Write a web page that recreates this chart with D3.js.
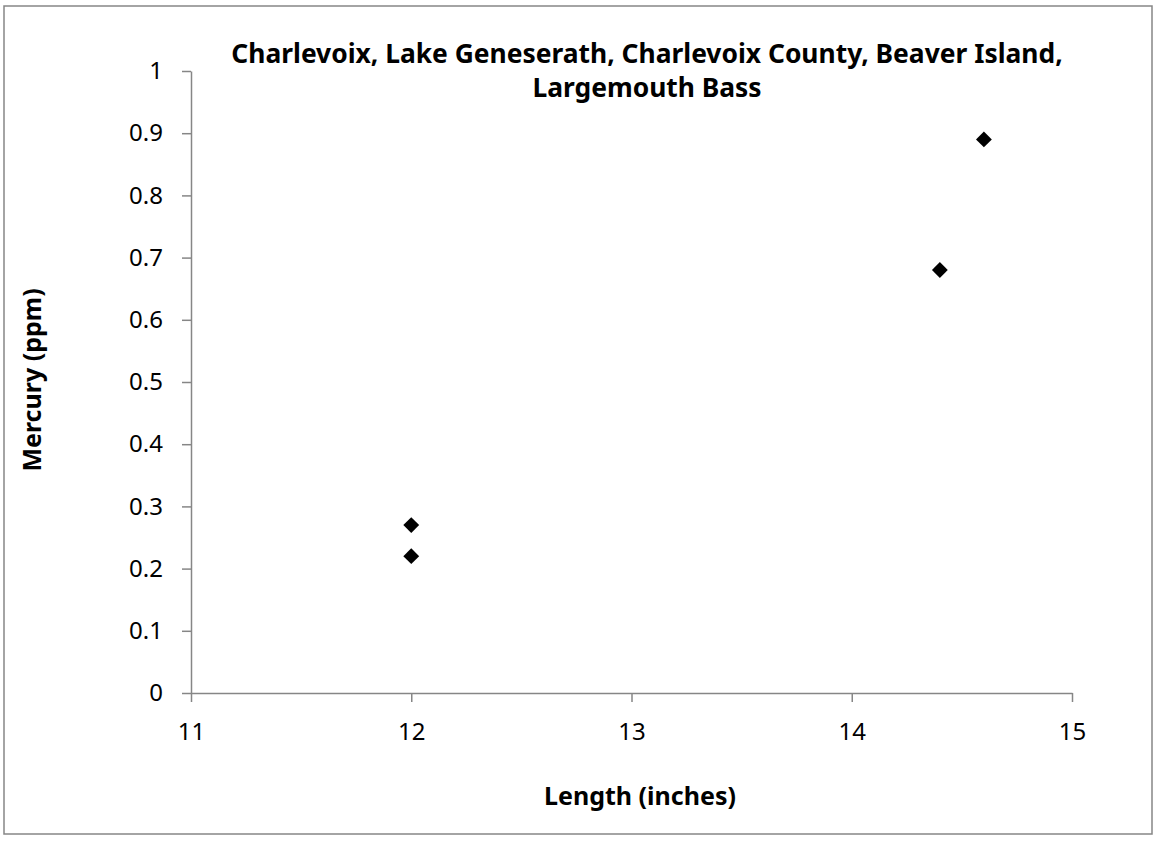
<!DOCTYPE html>
<html>
<head>
<meta charset="utf-8">
<script src="https://cdn.jsdelivr.net/npm/d3@7"></script>
<style>
  body { margin: 0; background: #fff; }
  svg { font-family: "Noto Sans", "Open Sans", sans-serif; }
</style>
</head>
<body>
<div id="chart"></div>
<script>
// Data
const lengths = [12, 12, 14.4, 14.6];
const mercury = [0.27, 0.22, 0.68, 0.89];
const xTicks = [11, 12, 13, 14, 15];
const yTicks = [0, 0.1, 0.2, 0.3, 0.4, 0.5, 0.6, 0.7, 0.8, 0.9, 1];
const titleLines = ["Charlevoix, Lake Geneserath, Charlevoix County, Beaver Island,", "Largemouth Bass"];

const W = 1156, H = 842;
const margin = {top: 71, right: 84, bottom: 149, left: 191},
      width = 1072 - margin.left,
      height = 693 - margin.top;

const svg = d3.select("#chart").append("svg")
    .attr("width", W)
    .attr("height", H);

// outer chart border
svg.append("rect")
    .attr("x", 4).attr("y", 6)
    .attr("width", 1148).attr("height", 828)
    .attr("fill", "none")
    .attr("stroke", "#868686")
    .attr("stroke-width", 1.5);

const g = svg.append("g")
    .attr("transform", `translate(${margin.left},${margin.top})`);

const x = d3.scaleLinear().domain([11, 15]).range([0, width]);
const y = d3.scaleLinear().domain([0, 1]).range([height, 0]);

// x axis
const xAxis = g.append("g")
    .attr("transform", `translate(0,${height})`)
    .call(d3.axisBottom(x).tickValues(xTicks).tickSize(9).tickPadding(21).tickSizeOuter(0).tickFormat(d3.format("d")));

// y axis
const yAxis = g.append("g")
    .call(d3.axisLeft(y).tickValues(yTicks).tickSize(9).tickPadding(19).tickSizeOuter(0).tickFormat(d => d === 0 || d === 1 ? d : d3.format(".1f")(d)));

[xAxis, yAxis].forEach(a => {
  a.select(".domain").attr("stroke", "#868686").attr("stroke-width", 1.5);
  a.selectAll(".tick line").attr("stroke", "#868686").attr("stroke-width", 1.5);
  a.selectAll(".tick text").attr("fill", "#000").style("font-size", "24px")
      .style("font-family", "'Noto Sans', sans-serif");
});

// points (diamonds)
const diamond = d3.symbol().type(d3.symbolDiamond2).size(160);
g.selectAll("path.pt")
    .data(lengths.map((l, i) => ({l, m: mercury[i]})))
    .enter().append("path")
    .attr("class", "pt")
    .attr("d", diamond)
    .attr("transform", d => `translate(${x(d.l)},${y(d.m)})`)
    .attr("fill", "#000");

// title
svg.append("text")
    .attr("x", 647).attr("y", 63)
    .attr("text-anchor", "middle")
    .style("font-size", "26.4px").style("font-weight", "bold")
    .selectAll("tspan")
    .data(titleLines)
    .enter().append("tspan")
    .attr("x", 647)
    .attr("dy", (d, i) => i === 0 ? 0 : 34)
    .text(d => d);

// axis titles
svg.append("text")
    .attr("x", 640).attr("y", 805)
    .attr("text-anchor", "middle")
    .style("font-size", "25px").style("font-weight", "bold")
    .text("Length (inches)");

svg.append("text")
    .attr("transform", "translate(41,380) rotate(-90)")
    .attr("text-anchor", "middle")
    .style("font-size", "25px").style("font-weight", "bold")
    .text("Mercury (ppm)");
</script>
</body>
</html>
